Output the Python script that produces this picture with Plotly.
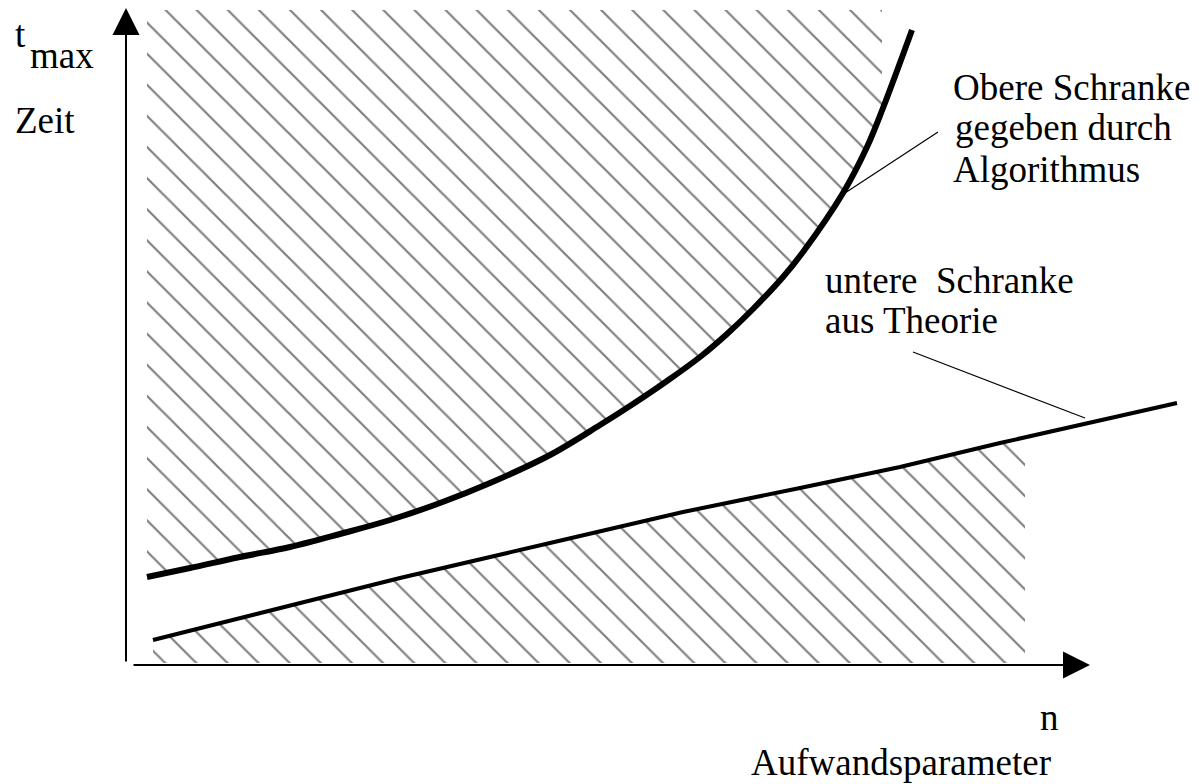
import numpy as np
import plotly.graph_objects as go

# ---------------- data (schematic units: n = effort parameter, t = time) ----------------
upper_n = [0.20, 0.63, 1.13, 1.63, 2.13, 2.63, 3.13, 3.63, 4.23, 4.73, 5.06, 5.40, 5.73,
           6.00, 6.26, 6.56, 6.76, 7.16, 7.40, 7.56, 7.85]
upper_t = [0.86, 0.95, 1.06, 1.16, 1.29, 1.43, 1.60, 1.80, 2.08, 2.38, 2.59, 2.82, 3.06,
           3.29, 3.54, 3.86, 4.11, 4.70, 5.16, 5.55, 6.33]

lower_n = [0.26, 2.73, 4.23, 5.56, 6.73, 7.73, 8.73, 10.50]
lower_t = [0.23, 0.85, 1.20, 1.51, 1.75, 1.96, 2.20, 2.60]

# extents of the hatched zones
upper_zone_n = [0.20, 7.55]   # left / right edge
upper_zone_top = 6.53
lower_zone_n = [0.26, 8.98]

# leader lines (from label to curve)
leader_upper_n = [8.11, 7.18]
leader_upper_t = [5.31, 4.70]
leader_lower_n = [7.86, 9.58]
leader_lower_t = [3.11, 2.45]

# axes
y_axis_n = -0.01
y_axis_t = [0.0, 6.55]
x_axis_t = -0.02
x_axis_n = [0.05, 9.63]

labels = ["t", "max", "Zeit", "Obere Schranke", "gegeben durch", "Algorithmus",
          "untere\u00a0 Schranke", "aus Theorie", "n", "Aufwandsparameter"]

# ---------------- layout positions ----------------
label_pos = [(-1.14, 6.286), (-0.99, 6.076), (-1.14, 5.426), (8.24, 5.756), (8.26, 5.356),
             (8.24, 4.936), (6.96, 3.826), (6.96, 3.426), (9.11, -0.544), (6.22, -0.994)]

FONT = "Liberation Serif, Times New Roman, serif"
FS = 37
HATCH = dict(shape="\\", size=22, solidity=0.1, fgcolor="black", bgcolor="white")

fig = go.Figure()

# upper hatched zone: above upper curve
un = np.array(upper_n); ut = np.array(upper_t)
right = upper_zone_n[1]
t_right = float(np.interp(right, un, ut))
mask = un <= right
poly_n = [upper_zone_n[0]] + list(un[mask]) + [right, right, upper_zone_n[0]]
poly_t = [ut[0] + 0.15] + list(ut[mask]) + [t_right, upper_zone_top, upper_zone_top]
fig.add_trace(go.Scatter(x=poly_n, y=poly_t, mode="lines", fill="toself",
                         line=dict(width=0, color="rgba(0,0,0,0)"),
                         fillcolor="rgba(0,0,0,0)", fillpattern=HATCH,
                         hoverinfo="skip", showlegend=False))

# lower hatched zone: below lower line
ln = np.array(lower_n); lt = np.array(lower_t)
lr = lower_zone_n[1]
lt_r = float(np.interp(lr, ln, lt))
lmask = ln <= lr
lp_n = list(ln[lmask]) + [lr, lr, lower_zone_n[0]]
lp_t = list(lt[lmask]) + [lt_r, 0.0, 0.0]
fig.add_trace(go.Scatter(x=lp_n, y=lp_t, mode="lines", fill="toself",
                         line=dict(width=0, color="rgba(0,0,0,0)"),
                         fillcolor="rgba(0,0,0,0)", fillpattern=HATCH,
                         hoverinfo="skip", showlegend=False))

# curves
fig.add_trace(go.Scatter(x=upper_n, y=upper_t, mode="lines",
                         line=dict(color="black", width=6, shape="spline", smoothing=1.0),
                         showlegend=False))
fig.add_trace(go.Scatter(x=lower_n, y=lower_t, mode="lines",
                         line=dict(color="black", width=4),
                         showlegend=False))

# leader lines
for xs, ys in [(leader_upper_n, leader_upper_t), (leader_lower_n, leader_lower_t)]:
    fig.add_trace(go.Scatter(x=xs, y=ys, mode="lines",
                             line=dict(color="black", width=1.2),
                             showlegend=False))

# axes with arrows
fig.add_annotation(x=y_axis_n, y=y_axis_t[1], ax=y_axis_n, ay=y_axis_t[0],
                   xref="x", yref="y", axref="x", ayref="y", text="",
                   showarrow=True, arrowhead=2, arrowsize=2.7, arrowwidth=2,
                   arrowcolor="black", standoff=0)
fig.add_annotation(x=x_axis_n[1], y=x_axis_t, ax=x_axis_n[0], ay=x_axis_t,
                   xref="x", yref="y", axref="x", ayref="y", text="",
                   showarrow=True, arrowhead=2, arrowsize=2.7, arrowwidth=2,
                   arrowcolor="black", standoff=0)

for txt, (px, py) in zip(labels, label_pos):
    fig.add_annotation(x=px, y=py, xref="x", yref="y", text=txt, showarrow=False,
                       xanchor="left", yanchor="middle",
                       font=dict(family=FONT, size=FS, color="black"))

# page body has an 8px margin: size the figure so it fits the 1200x784 window
fig.update_layout(width=1192, height=776, margin=dict(l=0, r=0, t=0, b=0),
                  paper_bgcolor="white", plot_bgcolor="white",
                  xaxis=dict(range=[-1.19, 10.73], visible=False, fixedrange=True),
                  yaxis=dict(range=[-1.21, 6.55], visible=False, fixedrange=True),
                  showlegend=False)

fig.write_html("out.html")
